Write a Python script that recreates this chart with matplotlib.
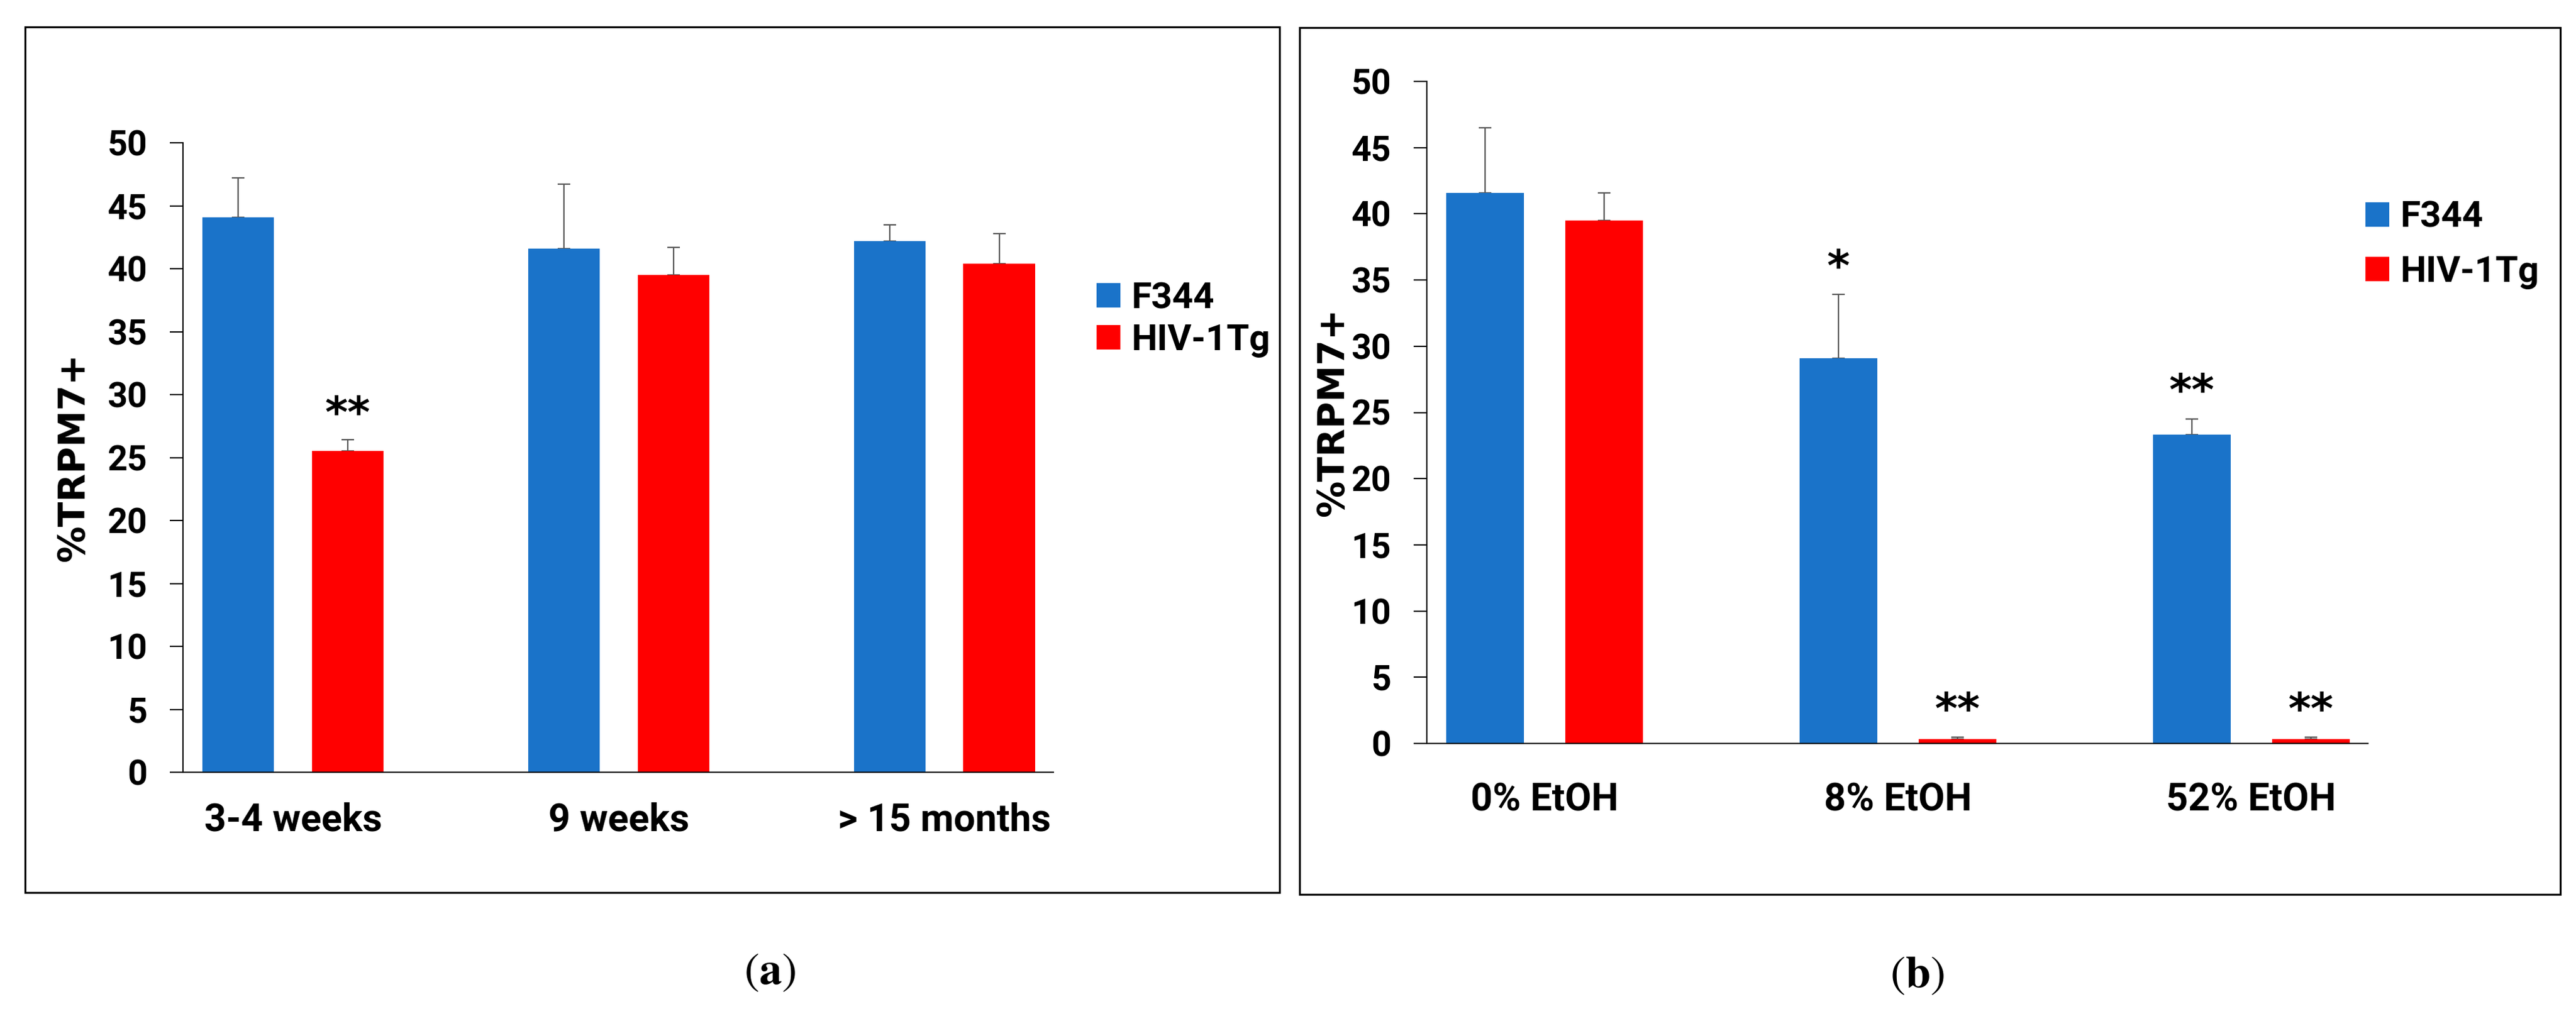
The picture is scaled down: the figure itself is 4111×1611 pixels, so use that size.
import numpy as np
import matplotlib
matplotlib.use('Agg')
import matplotlib.pyplot as plt
from matplotlib.patches import Rectangle

# Datos
groups_a = ['3-4 weeks', '9 weeks', '> 15 months']
f344_a = [44.1, 41.6, 42.2]
f344_a_err = [3.1, 5.1, 1.3]
hiv_a = [25.5, 39.5, 40.4]
hiv_a_err = [0.9, 2.2, 2.4]
stars_f344_a = ['', '', '']
stars_hiv_a = ['**', '', '']

groups_b = ['0% EtOH', '8% EtOH', '52% EtOH']
f344_b = [41.6, 29.1, 23.3]
f344_b_err = [4.9, 4.8, 1.2]
hiv_b = [39.5, 0.35, 0.35]
hiv_b_err = [2.1, 0.1, 0.1]
stars_f344_b = ['', '*', '**']
stars_hiv_b = ['', '**', '**']

series_names = ['F344', 'HIV-1Tg']
yticks = [0, 5, 10, 15, 20, 25, 30, 35, 40, 45, 50]

BLUE = '#1a73c9'
RED = '#ff0000'
ERR = '#595959'
NARROW = ['Roboto', 'DejaVu Sans']

W, H = 4111, 1611
fig = plt.figure(figsize=(W / 100, H / 100), dpi=100)
plt.rcParams['mathtext.fontset'] = 'stix'


def panel(rect, groups, f344, f344_err, hiv, hiv_err, s_f, s_h,
          xlim, label_pad, leg_pos, leg_spacing):
    ax = fig.add_axes(rect)
    x = np.arange(len(groups))
    off, w = 0.168, 0.22
    ax.bar(x - off, f344, w, color=BLUE, label=series_names[0], zorder=2)
    ax.bar(x + off, hiv, w, color=RED, label=series_names[1], zorder=2)
    ax.errorbar(x - off, f344, yerr=[np.zeros(3), f344_err], fmt='none',
                ecolor=ERR, elinewidth=1.6, capsize=7, capthick=1.6, zorder=1)
    ax.errorbar(x + off, hiv, yerr=[np.zeros(3), hiv_err], fmt='none',
                ecolor=ERR, elinewidth=1.6, capsize=7, capthick=1.6, zorder=1)
    for i in range(len(groups)):
        if s_f[i]:
            ax.text(x[i] - off, f344[i] + f344_err[i] + 2.0, s_f[i], ha='center',
                    va='center', fontsize=50, fontweight='bold')
        if s_h[i]:
            ax.text(x[i] + off, hiv[i] + hiv_err[i] + 2.0, s_h[i], ha='center',
                    va='center', fontsize=50, fontweight='bold')
    ax.set_ylim(0, 50)
    ax.set_xlim(*xlim)
    ax.set_yticks(yticks)
    ax.set_xticks(x)
    ax.set_xticklabels(groups, family=NARROW, fontsize=44, fontweight='bold')
    for t in ax.get_yticklabels():
        t.set_family(NARROW)
        t.set_fontsize(40)
        t.set_fontweight('bold')
    ax.tick_params(axis='y', length=15, width=1.5, pad=26, direction='out')
    ax.tick_params(axis='x', length=0, pad=label_pad)
    for s in ['top', 'right']:
        ax.spines[s].set_visible(False)
    ax.spines['left'].set_linewidth(1.5)
    ax.spines['bottom'].set_linewidth(1.5)
    ax.set_ylabel('%TRPM7+', fontsize=42, fontweight='bold', labelpad=18)
    ax.legend(loc='center left', bbox_to_anchor=leg_pos,
              bbox_transform=fig.transFigure, frameon=False, borderpad=0,
              handlelength=0.65, handleheight=0.65, handletextpad=0.3,
              labelspacing=leg_spacing,
              prop={'family': NARROW, 'size': 42, 'weight': 'bold'})
    return ax


ax_a = panel([292 / W, 1 - 1233 / H, (1681 - 292) / W, (1233 - 228) / H],
             groups_a, f344_a, f344_a_err, hiv_a, hiv_a_err,
             stars_f344_a, stars_hiv_a, (-0.3375, 2.334), 34,
             (1721 / W, 1 - 510 / H), 0.2)
ax_b = panel([2277 / W, 1 - 1187 / H, (3779 - 2277) / W, (1187 - 130) / H],
             groups_b, f344_b, f344_b_err, hiv_b, hiv_b_err,
             stars_f344_b, stars_hiv_b, (-0.333, 2.33), 44,
             (3746 / W, 1 - 391 / H), 0.55)
ax_b.yaxis.labelpad = 0

# Marcos de cada panel
for (x0, y0, x1, y1) in [(40, 43, 2042, 1425), (2074, 44, 4086, 1428)]:
    fig.add_artist(Rectangle((x0 / W, 1 - y1 / H), (x1 - x0) / W, (y1 - y0) / H,
                             transform=fig.transFigure, fill=False,
                             edgecolor='black', linewidth=2.2))

fig.text(1228 / W, 1 - 1552 / H, r'$(\mathbf{a})$', ha='center', va='center', fontsize=52)
fig.text(3059 / W, 1 - 1557 / H, r'$(\mathbf{b})$', ha='center', va='center', fontsize=52)

fig.savefig('out.png', dpi=100, facecolor='white')
